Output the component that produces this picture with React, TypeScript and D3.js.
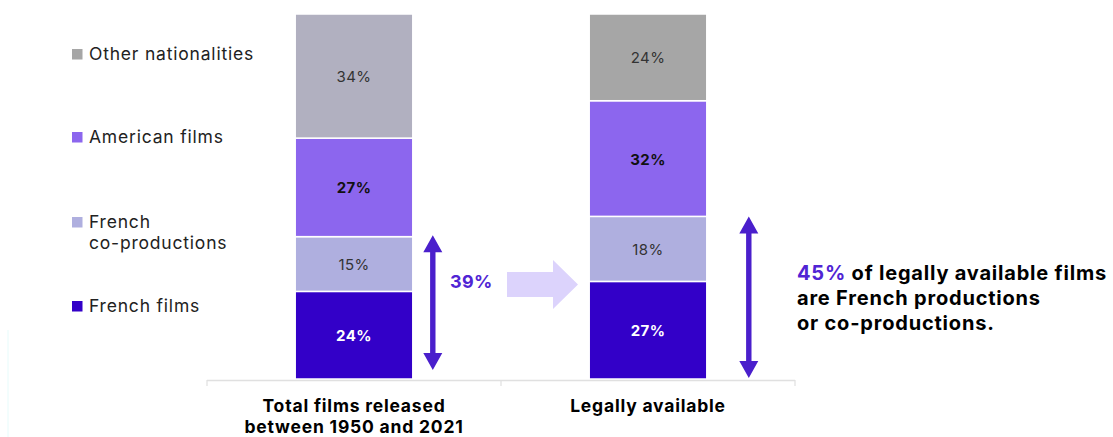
import React from "react";
import * as d3 from "d3";

const categories = ["Total films released|between 1950 and 2021", "Legally available"];
const seriesKeys = ["French films", "French co-productions", "American films", "Other nationalities"];
const frenchFilms = [24, 27];
const coProductions = [15, 18];
const americanFilms = [27, 32];
const otherNationalities = [34, 24];
const legendOrder = ["Other nationalities", "American films", "French co-productions", "French films"];
const legendLabels = ["Other nationalities", "American films", "French|co-productions", "French films"];
const bracketValues = [39, 45];
const annotationLines = ["of legally available films", "are French productions", "or co-productions."];

const W = 1113;
const H = 437;
const FONT = "Inter, 'Noto Sans', sans-serif";

const seriesColor: Record<string, string> = {
  "French films": "#3300c8",
  "French co-productions": "#afafdf",
  "American films": "#8c66ee",
  "Other nationalities": "#a6a6a6",
};
const otherBarColors = ["#b1b0c0", "#a6a6a6"];

export default function App() {
  const rows = categories.map((c, i) => ({
    cat: c,
    "French films": frenchFilms[i],
    "French co-productions": coProductions[i],
    "American films": americanFilms[i],
    "Other nationalities": otherNationalities[i],
  }));
  const stack = d3.stack<any>().keys(seriesKeys).offset(d3.stackOffsetExpand);
  const stacked = stack(rows);

  const x = d3.scaleBand<string>().domain(categories).range([207, 795]).padding(0);
  const y = d3.scaleLinear().domain([0, 1]).range([379, 14]);
  const barW = x.bandwidth() * 0.4;

  const arrowColor = "#4a1fcc";
  const accent = "#5024d4";

  const vArrow = (cx: number, yTop: number, yBot: number) => {
    const hw = 9.5, hl = 17, sw = 2.7;
    const p = [
      [cx, yTop],
      [cx + hw, yTop + hl],
      [cx + sw, yTop + hl],
      [cx + sw, yBot - hl],
      [cx + hw, yBot - hl],
      [cx, yBot],
      [cx - hw, yBot - hl],
      [cx - sw, yBot - hl],
      [cx - sw, yTop + hl],
      [cx - hw, yTop + hl],
    ];
    return <path d={d3.line()(p as any) + "Z"} fill={arrowColor} />;
  };

  const legendY = [54, 137, 222, 306];

  const b1Top = y(stacked[1][0][1]);
  const b2Top = y(stacked[1][1][1]);
  const bar1Right = (x(categories[0]) as number) + x.bandwidth() / 2 + barW / 2;
  const bar2Right = (x(categories[1]) as number) + x.bandwidth() / 2 + barW / 2;

  return (
    <svg width={W} height={H} style={{ position: "absolute", left: 0, top: 0, background: "#fff" }} fontFamily={FONT}>
      <line x1={8} x2={8} y1={330} y2={437} stroke="#e6fbfb" strokeWidth={1} />
      {stacked.map((s, si) =>
        s.map((d, i) => {
          const cx = (x(categories[i]) as number) + x.bandwidth() / 2;
          const y0 = y(d[0]);
          const y1 = y(d[1]);
          const key = s.key;
          const fill = key === "Other nationalities" ? otherBarColors[i] : seriesColor[key];
          const raw = (rows[i] as any)[key];
          const bold = key === "French films" || key === "American films";
          const textFill = key === "French films" ? "#ffffff" : bold ? "#111" : "#333";
          return (
            <g key={si + "-" + i}>
              <rect x={cx - barW / 2} y={y1} width={barW} height={y0 - y1} fill={fill} stroke="#fff" strokeWidth={1.5} />
              <text x={cx} y={(y0 + y1) / 2} dy="0.4em" textAnchor="middle" fontSize={15}
                letterSpacing={0.4} fontWeight={bold ? 700 : 400} fill={textFill}>{raw}%</text>
            </g>
          );
        })
      )}
      <line x1={207} x2={795} y1={380.5} y2={380.5} stroke="#e0e0e0" strokeWidth={1.5} />
      {[207, 501, 795].map((t) => (
        <line key={t} x1={t} x2={t} y1={380} y2={386} stroke="#e0e0e0" strokeWidth={1.2} />
      ))}
      {categories.map((c) => {
        const cx = (x(c) as number) + x.bandwidth() / 2;
        return c.split("|").map((ln, j) => (
          <text key={c + j} x={cx} y={406 + j * 21} dy="0.36em" textAnchor="middle" fontSize={17.5}
            letterSpacing={0.8} fontWeight={700} fill="#000">{ln}</text>
        ));
      })}
      {legendOrder.map((k, i) => (
        <g key={k}>
          <rect x={72} y={legendY[i] - 5} width={10.5} height={10.5} fill={seriesColor[k]} />
          {legendLabels[i].split("|").map((ln, j) => (
            <text key={j} x={89} y={legendY[i] + j * 21} dy="0.36em" fontSize={17.5} letterSpacing={0.8} fill="#222">{ln}</text>
          ))}
        </g>
      ))}
      {vArrow(bar1Right + 20, b1Top - 1.5, 370)}
      <text x={450} y={282} dy="0.36em" fontSize={18} letterSpacing={0.3} fontWeight={700} fill={accent}>{bracketValues[0]}%</text>
      {vArrow(bar2Right + 42, b2Top, 378)}
      <path d={d3.line()([[507, 272], [553, 272], [553, 260], [578, 284.5], [553, 309], [553, 297], [507, 297]] as any) + "Z"} fill="#dcd3fc" />
      <text x={797} y={273} dy="0.36em" fontSize={20} letterSpacing={0.8} fontWeight={700} fill="#000">
        <tspan fill={accent}>{bracketValues[1]}%</tspan> {annotationLines[0]}
      </text>
      {annotationLines.slice(1).map((ln, j) => (
        <text key={j} x={797} y={298 + j * 25} dy="0.36em" fontSize={20} letterSpacing={0.8} fontWeight={700} fill="#000">{ln}</text>
      ))}
    </svg>
  );
}
